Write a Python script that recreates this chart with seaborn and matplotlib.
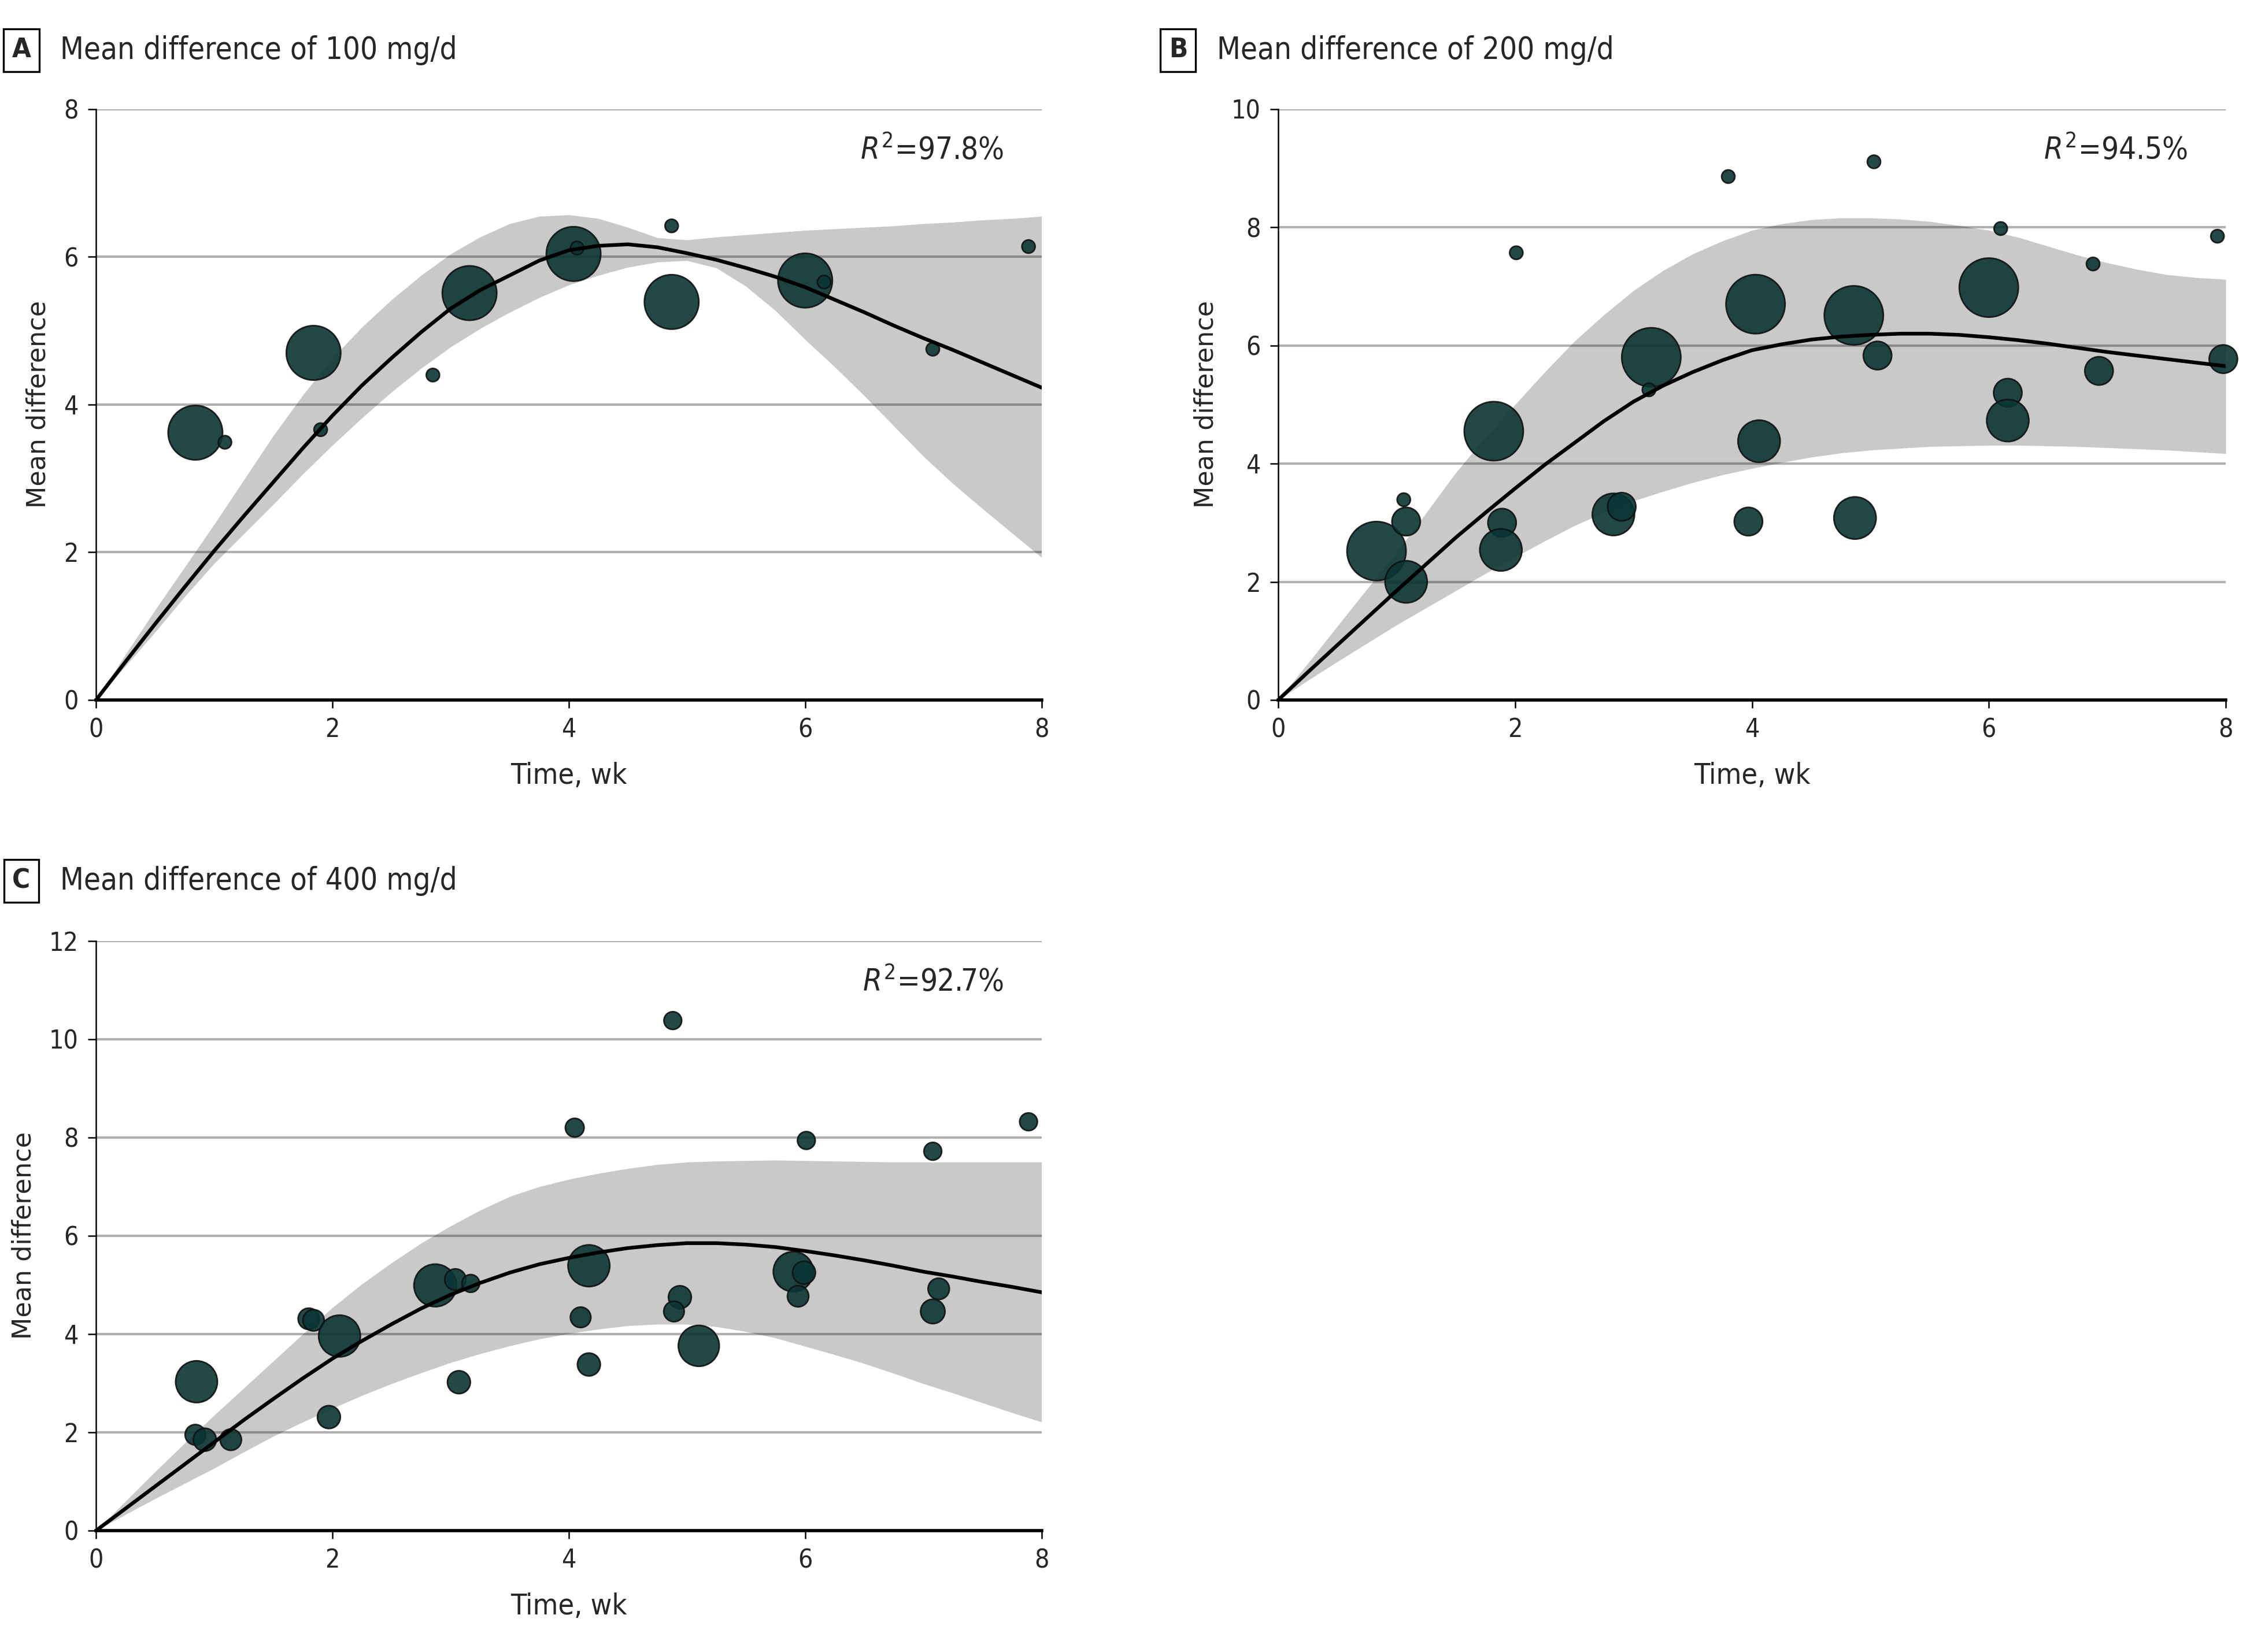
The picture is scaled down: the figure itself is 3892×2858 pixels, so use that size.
import matplotlib
matplotlib.use("Agg")
import numpy as np
import pandas as pd
import matplotlib.pyplot as plt
import seaborn as sns

# ── data ─────────────────────────────────────────────────────────────────────

a_time = [0.84, 1.09, 1.84, 1.90, 2.85, 3.16, 4.04, 4.07, 4.87, 4.87, 6.00, 6.16, 7.08, 7.89]
a_diff = [3.62, 3.49, 4.70, 3.66, 4.40, 5.51, 6.04, 6.12, 6.42, 5.39, 5.68, 5.66, 4.75, 6.14]
a_weight = [85, 5, 85, 5, 5, 85, 85, 5, 5, 85, 85, 5, 5, 5]

b_time = [0.83, 1.08, 1.06, 1.08, 1.82, 1.89, 1.88, 2.01, 2.83, 2.90, 3.15, 3.13, 3.80, 4.03,
          4.06, 3.97, 4.86, 4.87, 5.03, 5.06, 6.00, 6.10, 6.16, 6.16, 6.88, 6.93, 7.93, 7.98]
b_diff = [2.52, 3.02, 3.39, 2.00, 4.55, 3.00, 2.54, 7.57, 3.14, 3.27, 5.80, 5.25, 8.86, 6.70,
          4.38, 3.02, 6.51, 3.08, 9.11, 5.83, 6.98, 7.98, 5.20, 4.73, 7.38, 5.57, 7.85, 5.77]
b_weight = [100, 23, 5, 51, 100, 23, 51, 5, 51, 23, 100, 5, 5, 100,
            51, 23, 100, 51, 5, 23, 100, 5, 23, 51, 5, 23, 5, 23]

c_time = [0.85, 0.84, 0.92, 1.14, 1.80, 1.84, 2.06, 1.97, 2.87, 3.04, 3.17, 3.07, 4.05, 4.17,
          4.10, 4.17, 4.88, 4.94, 4.89, 5.10, 6.01, 5.90, 5.99, 5.94, 7.08, 7.13, 7.08, 7.89]
c_diff = [3.03, 1.95, 1.85, 1.85, 4.31, 4.28, 3.96, 2.31, 4.99, 5.11, 5.03, 3.02, 8.20, 5.39,
          4.34, 3.38, 10.38, 4.75, 4.46, 3.76, 7.94, 5.27, 5.25, 4.77, 7.72, 4.92, 4.46, 8.32]
c_weight = [50, 12, 15, 13, 13, 13, 50, 15, 52, 13, 9, 15, 10, 50,
            12, 15, 9, 15, 12, 48, 9, 46, 15, 13, 9, 13, 17, 9]

# fitted curve and confidence band, read every quarter week
fit_time = [0, 0.25, 0.5, 0.75, 1, 1.25, 1.5, 1.75, 2, 2.25, 2.5, 2.75, 3, 3.25, 3.5, 3.75,
            4, 4.25, 4.5, 4.75, 5, 5.25, 5.5, 5.75, 6, 6.25, 6.5, 6.75, 7, 7.25, 7.5, 7.75, 8]

a_fit = [0, 0.52, 1.03, 1.53, 2.02, 2.49, 2.95, 3.41, 3.85, 4.26, 4.63, 4.98, 5.30, 5.55, 5.75, 5.95,
         6.09, 6.15, 6.17, 6.13, 6.05, 5.96, 5.85, 5.73, 5.59, 5.42, 5.25, 5.07, 4.90, 4.74, 4.57, 4.40, 4.23]
a_hi = [0, 0.62, 1.22, 1.80, 2.38, 2.98, 3.58, 4.13, 4.63, 5.05, 5.42, 5.75, 6.04, 6.27, 6.45, 6.55,
        6.57, 6.52, 6.40, 6.26, 6.23, 6.27, 6.30, 6.33, 6.36, 6.38, 6.40, 6.42, 6.45, 6.47, 6.50, 6.52, 6.55]
a_lo = [0, 0.46, 0.92, 1.40, 1.85, 2.25, 2.65, 3.06, 3.45, 3.82, 4.17, 4.49, 4.78, 5.03, 5.25, 5.45,
        5.62, 5.75, 5.86, 5.93, 5.95, 5.85, 5.60, 5.27, 4.88, 4.51, 4.12, 3.71, 3.30, 2.93, 2.59, 2.26, 1.93]

b_fit = [0, 0.47, 0.93, 1.39, 1.85, 2.30, 2.75, 3.17, 3.58, 3.98, 4.35, 4.72, 5.05, 5.32, 5.55, 5.75,
         5.92, 6.02, 6.10, 6.15, 6.18, 6.20, 6.20, 6.18, 6.14, 6.09, 6.03, 5.96, 5.89, 5.83, 5.77, 5.71, 5.65]
b_hi = [0, 0.62, 1.25, 1.88, 2.50, 3.17, 3.85, 4.45, 5.00, 5.55, 6.07, 6.52, 6.93, 7.27, 7.55, 7.77,
        7.95, 8.06, 8.13, 8.16, 8.16, 8.14, 8.10, 8.03, 7.95, 7.83, 7.68, 7.53, 7.40, 7.29, 7.20, 7.15, 7.12]
b_lo = [0, 0.33, 0.65, 0.96, 1.27, 1.56, 1.85, 2.14, 2.42, 2.69, 2.95, 3.17, 3.37, 3.53, 3.68, 3.81,
        3.92, 4.02, 4.11, 4.18, 4.23, 4.26, 4.29, 4.30, 4.31, 4.31, 4.30, 4.29, 4.27, 4.25, 4.23, 4.20, 4.17]

c_fit = [0, 0.45, 0.90, 1.35, 1.80, 2.25, 2.68, 3.10, 3.50, 3.86, 4.20, 4.52, 4.80, 5.04, 5.25, 5.42,
         5.55, 5.66, 5.75, 5.81, 5.85, 5.85, 5.82, 5.77, 5.69, 5.60, 5.50, 5.39, 5.27, 5.17, 5.06, 4.96, 4.85]
c_hi = [0, 0.60, 1.20, 1.78, 2.35, 2.90, 3.45, 4.00, 4.54, 5.02, 5.45, 5.85, 6.20, 6.52, 6.80, 7.00,
        7.15, 7.27, 7.37, 7.45, 7.50, 7.52, 7.53, 7.54, 7.53, 7.52, 7.51, 7.50, 7.50, 7.50, 7.50, 7.50, 7.50]
c_lo = [0, 0.33, 0.65, 0.96, 1.27, 1.60, 1.92, 2.21, 2.49, 2.75, 2.99, 3.21, 3.42, 3.60, 3.76, 3.90,
        4.01, 4.10, 4.17, 4.20, 4.20, 4.15, 4.05, 3.92, 3.75, 3.58, 3.40, 3.20, 2.99, 2.80, 2.60, 2.40, 2.21]

# ── style ────────────────────────────────────────────────────────────────────

sns.set_theme(style="white")
plt.rcParams["font.family"] = ["DejaVu Sans"]
plt.rcParams["font.stretch"] = "condensed"
plt.rcParams["mathtext.fontset"] = "dejavusans"

BUBBLE = "#0b3434"
GRID = "#b0b0b0"


def draw_panel(ax, time, diff, weight, fit, lo, hi, ymax, r2):
    pts = pd.DataFrame({"time": time, "diff": diff, "w": weight})
    curve = pd.DataFrame({"time": fit_time, "fit": fit, "lo": lo, "hi": hi})

    ax.fill_between(curve["time"], curve["lo"], curve["hi"], color="black",
                    alpha=0.21, linewidth=0, zorder=1)
    sns.scatterplot(data=pts, x="time", y="diff", size="w", sizes=(0, 1350),
                    size_norm=(0, 100), color=BUBBLE, alpha=0.9,
                    edgecolor="#111111", linewidth=1.0, legend=False,
                    clip_on=False, zorder=2, ax=ax)
    sns.lineplot(data=curve, x="time", y="fit", color="black", linewidth=2.3,
                 zorder=3, ax=ax)

    ax.set_xlim(0, 8)
    ax.set_ylim(0, ymax)
    ax.set_xticks([0, 2, 4, 6, 8])
    ax.set_yticks(np.arange(0, ymax + 1, 2))
    ax.yaxis.grid(True, color=GRID, linewidth=1.5)
    ax.xaxis.grid(False)
    ax.set_axisbelow(True)
    for side in ("top", "right"):
        ax.spines[side].set_visible(False)
    ax.spines["left"].set_color("black")
    ax.spines["left"].set_linewidth(0.9)
    ax.spines["bottom"].set_color("black")
    ax.spines["bottom"].set_linewidth(2.0)
    ax.tick_params(axis="both", direction="out", length=5, width=0.9,
                   color="black", labelsize=16, pad=6, left=True, bottom=True)
    ax.set_xlabel("Time, wk", fontsize=18, labelpad=12)
    ax.set_ylabel("Mean difference", fontsize=16, fontstretch="normal", labelpad=8)
    ax.text(0.96, 0.93, r"$R^2$" + f"={r2}%", transform=ax.transAxes,
            ha="right", va="center", fontsize=19)


def panel_title(fig, x_box, x_text, y, letter, text):
    fig.text(x_box, y, letter, ha="center", va="center", fontsize=17,
             fontweight="bold",
             bbox=dict(boxstyle="square,pad=0.3", fc="white", ec="black", lw=1.2))
    fig.text(x_text, y, text, ha="left", va="center", fontsize=19)


fig = plt.figure(figsize=(19.46, 14.29), dpi=200)
ax_a = fig.add_axes([0.0427, 0.5763, 0.4202, 0.3576])
ax_b = fig.add_axes([0.5681, 0.5763, 0.4211, 0.3576])
ax_c = fig.add_axes([0.0427, 0.0735, 0.4202, 0.3569])

draw_panel(ax_a, a_time, a_diff, a_weight, a_fit, a_lo, a_hi, 8, "97.8")
draw_panel(ax_b, b_time, b_diff, b_weight, b_fit, b_lo, b_hi, 10, "94.5")
draw_panel(ax_c, c_time, c_diff, c_weight, c_fit, c_lo, c_hi, 12, "92.7")

panel_title(fig, 0.0095, 0.0267, 0.9696, "A", "Mean difference of 100 mg/d")
panel_title(fig, 0.5236, 0.5408, 0.9696, "B", "Mean difference of 200 mg/d")
panel_title(fig, 0.0095, 0.0267, 0.4668, "C", "Mean difference of 400 mg/d")

fig.savefig("out.png", dpi=200, facecolor="white")
